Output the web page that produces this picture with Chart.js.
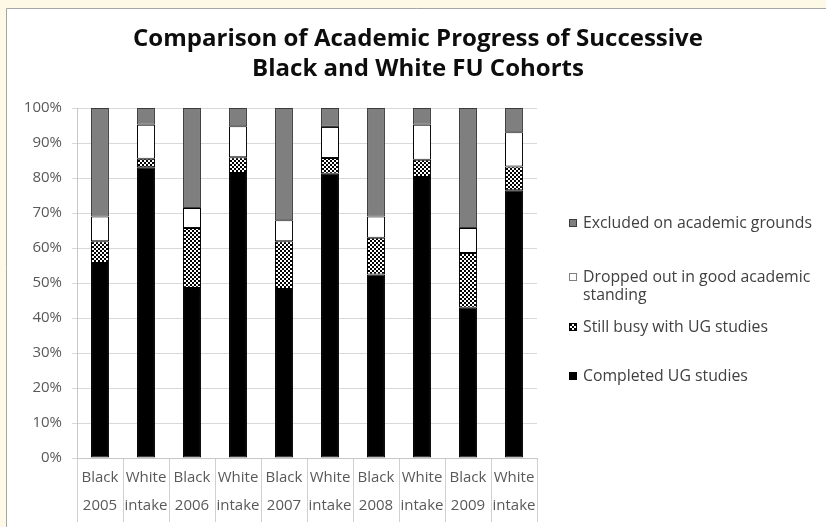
<!DOCTYPE html>
<html>
<head>
<meta charset="utf-8">
<script src="https://cdn.jsdelivr.net/npm/chart.js@4.4.1/dist/chart.umd.min.js"></script>
<style>
  html, body { margin: 0; padding: 0; background: #fdf9e6; }
  #wrap { position: absolute; left: 0; top: 0; width: 826px; height: 527px; }
</style>
</head>
<body>
<div id="wrap"><canvas id="chart" width="826" height="527"></canvas></div>
<script>
// Cohort columns: first line is the group, second line the intake year label
const categories = [
  ['Black', '2005'], ['White', 'intake'],
  ['Black', '2006'], ['White', 'intake'],
  ['Black', '2007'], ['White', 'intake'],
  ['Black', '2008'], ['White', 'intake'],
  ['Black', '2009'], ['White', 'intake']
];

// Share of each cohort (%) by outcome
const completedUG = [55.7, 83.1, 48.6, 81.4, 48.3, 81.2, 52.4, 80.3, 42.9, 76.5];
const stillBusyUG = [6.2, 2.4, 17.1, 4.5, 13.6, 4.5, 10.5, 4.9, 15.7, 6.8];
const droppedOutGood = [7.1, 9.7, 5.7, 8.9, 6.0, 8.9, 6.1, 10.0, 7.1, 9.8];
const excludedAcademic = [31.0, 4.8, 28.6, 5.2, 32.1, 5.4, 31.0, 4.8, 34.3, 6.9];

const titleLines = ['Comparison of Academic Progress of Successive', 'Black and White FU Cohorts'];
const legendEntries = [
  { lines: ['Excluded on academic grounds'], key: 'excluded' },
  { lines: ['Dropped out in good academic', 'standing'], key: 'dropped' },
  { lines: ['Still busy with UG studies'], key: 'busy' },
  { lines: ['Completed UG studies'], key: 'completed' }
];

const FONT = '"Open Sans", "DejaVu Sans", sans-serif';

// Fine checkerboard fill for the "still busy" segments
function checkerPattern() {
  const c = document.createElement('canvas');
  c.width = 4; c.height = 4;
  const g = c.getContext('2d');
  g.fillStyle = '#000000'; g.fillRect(0, 0, 4, 4);
  g.fillStyle = '#ffffff';
  g.fillRect(0, 0, 2, 2); g.fillRect(2, 2, 2, 2);
  return g.createPattern(c, 'repeat');
}
const checker = checkerPattern();

const styles = {
  completed: { fill: '#000000', stroke: '#000000' },
  busy: { fill: checker, stroke: '#000000' },
  dropped: { fill: '#ffffff', stroke: '#000000' },
  excluded: { fill: '#7f7f7f', stroke: '#3c3c3c' }
};

// Page frame: cream surround with a white chart panel
const framePlugin = {
  id: 'frame',
  beforeDraw(chart) {
    const ctx = chart.ctx;
    ctx.save();
    ctx.fillStyle = '#fdf9e6';
    ctx.fillRect(0, 0, chart.width, chart.height);
    ctx.fillStyle = '#ffffff';
    ctx.fillRect(7, 9, chart.width - 7, chart.height - 9);
    ctx.strokeStyle = '#a6a6a6';
    ctx.lineWidth = 1;
    ctx.beginPath();
    ctx.moveTo(6.5, chart.height);
    ctx.lineTo(6.5, 8.5);
    ctx.lineTo(chart.width, 8.5);
    ctx.stroke();
    ctx.restore();
  }
};

// Two-line title centred over the panel
const titlePlugin = {
  id: 'twoLineTitle',
  afterDraw(chart) {
    const ctx = chart.ctx;
    ctx.save();
    ctx.font = 'bold 24px ' + FONT;
    ctx.fillStyle = '#0d0d0d';
    ctx.textAlign = 'center';
    ctx.textBaseline = 'middle';
    titleLines.forEach((t, i) => ctx.fillText(t, 418, 39 + i * 30));
    ctx.restore();
  }
};

// Legend on the right, wrapped entries, top series first
const legendPlugin = {
  id: 'sideLegend',
  afterDraw(chart) {
    const ctx = chart.ctx;
    const ys = [223, 277, 327, 376];
    ctx.save();
    ctx.font = '15.8px ' + FONT;
    ctx.textBaseline = 'middle';
    ctx.textAlign = 'left';
    legendEntries.forEach((e, i) => {
      const st = styles[e.key];
      const y = ys[i];
      ctx.fillStyle = st.fill;
      ctx.fillRect(569, y - 4, 8, 8);
      ctx.strokeStyle = e.key === 'dropped' ? '#7f7f7f' : st.stroke;
      ctx.lineWidth = 1;
      ctx.strokeRect(569.5, y - 3.5, 7, 7);
      ctx.fillStyle = '#404040';
      e.lines.forEach((l, j) => ctx.fillText(l, 583, y + j * 18));
    });
    ctx.restore();
  }
};

function ds(label, data, key) {
  return {
    label, data,
    backgroundColor: styles[key].fill,
    borderColor: styles[key].stroke,
    borderWidth: 1,
    borderSkipped: false,
    categoryPercentage: 1,
    barPercentage: 0.39
  };
}

new Chart(document.getElementById('chart'), {
  type: 'bar',
  data: {
    labels: categories,
    datasets: [
      ds('Completed UG studies', completedUG, 'completed'),
      ds('Still busy with UG studies', stillBusyUG, 'busy'),
      ds('Dropped out in good academic standing', droppedOutGood, 'dropped'),
      ds('Excluded on academic grounds', excludedAcademic, 'excluded')
    ]
  },
  options: {
    responsive: false,
    animation: false,
    layout: { padding: { top: 108, left: 7, right: 289, bottom: 3 } },
    plugins: { legend: { display: false }, title: { display: false }, tooltip: { enabled: false } },
    scales: {
      x: {
        stacked: true,
        afterFit(s) { s.height = 66; },
        grid: { offset: true, drawOnChartArea: false, tickLength: 64, color: '#d0d0d0' },
        border: { color: '#c8c8c8' },
        ticks: {
          padding: -58,
          color: '#595959',
          font: { family: FONT, size: 15, lineHeight: 28 / 15 },
          maxRotation: 0, autoSkip: false
        }
      },
      y: {
        stacked: true,
        min: 0, max: 100,
        afterFit(s) { s.width = 70; },
        grid: { color: '#d9d9d9', tickLength: 5 },
        border: { color: '#c8c8c8' },
        ticks: {
          stepSize: 10,
          padding: 10,
          color: '#595959',
          font: { family: FONT, size: 15 },
          callback: v => v + '%'
        }
      }
    }
  },
  plugins: [framePlugin, titlePlugin, legendPlugin]
});
</script>
</body>
</html>
